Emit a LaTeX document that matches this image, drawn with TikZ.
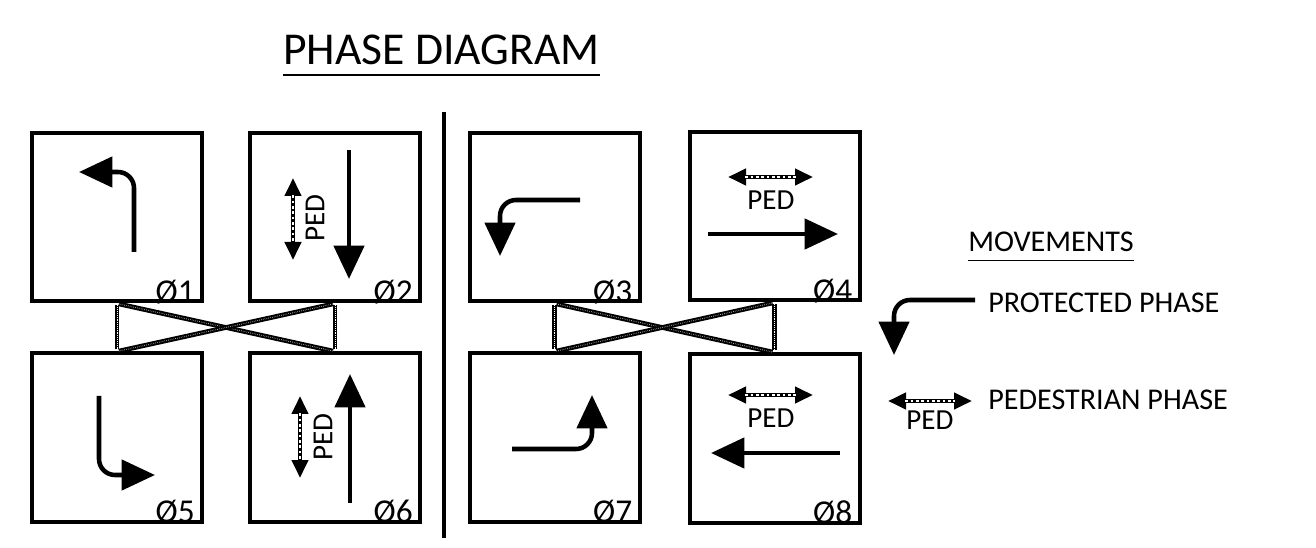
\documentclass[tikz,border=0pt]{standalone}
\usepackage{fontspec}
\setmainfont{Carlito}
\usetikzlibrary{positioning, arrows.meta}

\begin{document}
\begin{tikzpicture}[
    x=0.75pt, y=-0.75pt,
    phasebox/.style={rectangle, draw=black, line width=3pt,
                     minimum width=127.5pt, minimum height=126pt, inner sep=0pt},
    phnum/.style={anchor=base east, inner sep=0pt, font=\fontsize{25}{29}\selectfont},
    move/.style={line width=3.4pt, -{Triangle[length=25pt, width=22.5pt]}},
    turn/.style={move, rounded corners=12pt},
    ped/.style={line width=3.2pt,
                {Triangle[length=13.5pt, width=12pt]}-{Triangle[length=13.5pt, width=12pt]},
                postaction={draw=white, line width=0.8pt, arrows=-,
                            dash pattern=on 2pt off 2pt,
                            shorten <=13pt, shorten >=13pt}},
    pedtext/.style={inner sep=0pt, font=\fontsize{21.8}{25}\selectfont},
    link/.style={line width=3.5pt, draw=black, shorten <=1.5pt, shorten >=1.5pt,
                 postaction={draw=white, line width=0.7pt, dash pattern=on 0.3pt off 1.1pt}},
    legend/.style={anchor=west, inner sep=0pt, font=\fontsize{22.6}{26}\selectfont}
  ]
    \useasboundingbox (0,0) rectangle (1316,548);

    % Title
    \node[inner sep=0pt, font=\fontsize{34.2}{39}\selectfont] (title) at (441.5,50) {PHASE DIAGRAM};
    \draw[line width=1.5pt] ([yshift=-8pt]title.base west) -- ([yshift=-8pt]title.base east);

    % Divider
    \coordinate (divtop) at (444,112);
    \coordinate (divbot) at (444,538);
    \draw[line width=3.5pt] (divtop) -- (divbot);

    % Phase boxes
    \node[phasebox] (p1) at (117,217.5) {};
    \node[phasebox] (p2) at (335,217.5) {};
    \node[phasebox] (p3) at (554.5,217.5) {};
    \node[phasebox] (p4) at (774.5,216.5) {};
    \node[phasebox] (p5) at (117,437.5) {};
    \node[phasebox] (p6) at (335,437.5) {};
    \node[phasebox] (p7) at (554.5,437.5) {};
    \node[phasebox] (p8) at (774.5,438.5) {};

    % Phase numbers
    \node[phnum] (n1) at ([xshift=-6.75pt, yshift=0.75pt]p1.south east) {Ø1};
    \node[phnum] (n2) at ([xshift=-6.75pt, yshift=0.75pt]p2.south east) {Ø2};
    \node[phnum] (n3) at ([xshift=-6.75pt, yshift=0.75pt]p3.south east) {Ø3};
    \node[phnum] (n4) at ([xshift=-6.75pt, yshift=0.75pt]p4.south east) {Ø4};
    \node[phnum] (n5) at ([xshift=-6.75pt, yshift=0.75pt]p5.south east) {Ø5};
    \node[phnum] (n6) at ([xshift=-6.75pt, yshift=0.75pt]p6.south east) {Ø6};
    \node[phnum] (n7) at ([xshift=-6.75pt, yshift=0.75pt]p7.south east) {Ø7};
    \node[phnum] (n8) at ([xshift=-6.75pt, yshift=0.75pt]p8.south east) {Ø8};

    % Barrier links
    \draw[link] (p1.south) -- (p5.north);
    \draw[link] (p2.south) -- (p6.north);
    \draw[link] (p1.south) -- (p6.north);
    \draw[link] (p5.north) -- (p2.south);
    \draw[link] (p3.south) -- (p7.north);
    \draw[link] (p4.south) -- (p8.north);
    \draw[link] (p3.south) -- (p8.north);
    \draw[link] (p7.north) -- (p4.south);

    % Movements, ring 1
    \draw[turn] (134,252) |- (79,172);
    \draw[move] (349,150) -- (349,279);
    \draw[ped] (293,178) -- (293,260);
    \node[pedtext, rotate=90] (ped2) at (315,218) {PED};
    \draw[turn] (580,200) -| (500,256);
    \draw[ped] (728,177) -- (813,177);
    \node[pedtext] (ped4) at (771,200) {PED};
    \draw[move] (708,234) -- (838,234);

    % Movements, ring 2
    \draw[turn] (99,396) |- (155,475);
    \draw[move] (350,503) -- (350,374);
    \draw[ped] (300,396) -- (300,478);
    \node[pedtext, rotate=90] (ped6) at (323,437) {PED};
    \draw[turn] (512,449) -| (592,395);
    \draw[ped] (728,395) -- (813,395);
    \node[pedtext] (ped8) at (771,418) {PED};
    \draw[move] (840,453) -- (711,453);

    % Legend
    \node[legend, anchor=center] (mov) at (1051,242) {MOVEMENTS};
    \draw[line width=1.1pt] ([yshift=-6.75pt]mov.base west) -- ([yshift=-6.75pt]mov.base east);
    \node[legend] (prot) at (988,303) {PROTECTED PHASE};
    \draw[turn] (975,300) -| (894,355);
    \node[legend] (pedph) at (988,400) {PEDESTRIAN PHASE};
    \draw[ped] (888,401) -- (972,401);
    \node[pedtext] (pedl) at (930,420) {PED};

  \end{tikzpicture}
\end{document}
